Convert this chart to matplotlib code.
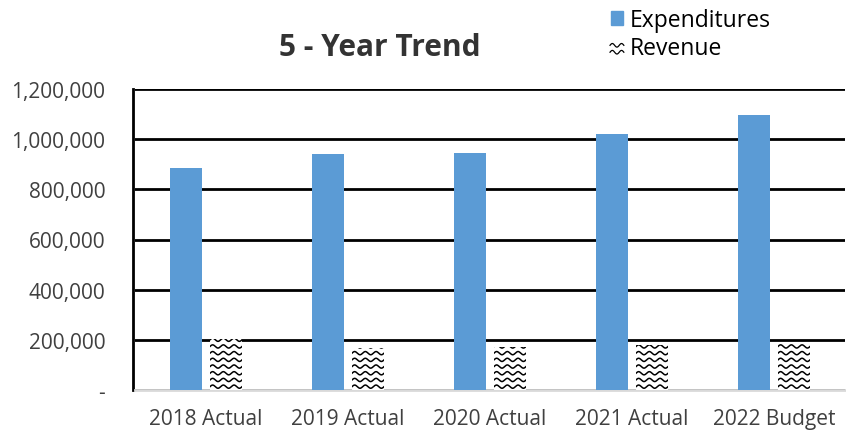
import numpy as np
import matplotlib
matplotlib.use("Agg")
from matplotlib import pyplot as plt
from matplotlib.patches import Rectangle
from matplotlib.lines import Line2D
from matplotlib.legend_handler import HandlerBase
from matplotlib.ticker import FuncFormatter

# data
categories = ["2018 Actual", "2019 Actual", "2020 Actual", "2021 Actual", "2022 Budget"]
expenditures = [887000, 939000, 944000, 1019000, 1096000]
revenue = [205000, 167000, 173000, 180000, 184000]

plt.rcParams["font.family"] = ["Open Sans", "DejaVu Sans"]
BLUE = "#5b9bd5"
TXT = "#404040"

fig = plt.figure(figsize=(8.46, 4.35), dpi=100)
ax = fig.add_axes([135 / 846, 44 / 435, 710 / 846, 301 / 435])

x = np.arange(len(categories))
w = 0.225
gap = 0.056
ax.bar(x - (w + gap) / 2, expenditures, w, color=BLUE, zorder=3)
rev_bars = ax.bar(x + (w + gap) / 2, revenue, w, color="white", zorder=3)


def wave_lines(ax, x0, y0, width, height, period, spacing, amp, clip, lw=1.1):
    # sine rows filling the rectangle, clipped to it
    xs = np.linspace(x0 - period, x0 + width + period, 200)
    y = y0 - spacing / 2
    while y < y0 + height + spacing:
        ys = y + amp * np.sin(2 * np.pi * (xs - x0) / period)
        ln = ax.plot(xs, ys, color="black", lw=lw, zorder=4, solid_capstyle="butt")[0]
        ln.set_clip_path(clip)
        y += spacing


# waves in pixel-like units converted to data units
px_x = len(categories) / 710.0
px_y = 1200000 / 301.0
for b in rev_bars:
    wave_lines(ax, b.get_x(), 0, b.get_width(), b.get_height(),
               period=10.7 * px_x, spacing=6.7 * px_y, amp=1.6 * px_y, clip=b)

ax.set_xlim(-0.5, len(categories) - 0.5)
ax.set_ylim(0, 1200000)
ax.set_yticks(np.arange(0, 1200001, 200000))
ax.yaxis.set_major_formatter(FuncFormatter(lambda v, p: "-" if v == 0 else f"{int(v):,}"))
ax.set_xticks(x)
ax.set_xticklabels(categories)
ax.tick_params(axis="both", length=0, labelsize=15, colors=TXT)
ax.tick_params(axis="x", pad=13)
ax.tick_params(axis="y", pad=20)

ax.grid(axis="y", color="black", lw=2, zorder=1)
ax.set_axisbelow(True)
for s in ["top", "right"]:
    ax.spines[s].set_visible(False)
ax.spines["left"].set_color("black")
ax.spines["left"].set_linewidth(2)
ax.spines["left"].set_position(("outward", 1.5))
ax.spines["bottom"].set_color("#d9d9d9")
ax.spines["bottom"].set_linewidth(2)

fig.text(380 / 846, 1 - 48 / 435, "5 - Year Trend", ha="center", va="center",
         fontsize=21.5, fontweight="bold", color="#333333")


class WaveHandler(HandlerBase):
    def create_artists(self, legend, orig, xd, yd, width, height, fontsize, trans):
        arts = []
        s = height
        x0 = xd + (width - s) / 2
        y0 = yd
        rows = 2
        xs = np.linspace(x0, x0 + s, 30)
        for i in range(rows):
            yy = y0 + s * (i + 0.5) / rows + 1.3 * np.sin(2 * np.pi * (xs - x0) / (s / 1.5))
            ln = Line2D(xs, yy, color="black", lw=0.9)
            ln.set_transform(trans)
            arts.append(ln)
        return arts


exp_h = Rectangle((0, 0), 1, 1, color=BLUE)
rev_h = Rectangle((0, 0), 1, 1, color="white")
leg = fig.legend([exp_h, rev_h], ["Expenditures", "Revenue"],
                 loc="upper left", bbox_to_anchor=(590 / 846, 1.027),
                 frameon=False, fontsize=16.5, handlelength=0.55, handleheight=0.55,
                 handletextpad=0.3, labelspacing=0.2, labelcolor="black",
                 handler_map={rev_h: WaveHandler()})

fig.savefig("out.png", dpi=100)
